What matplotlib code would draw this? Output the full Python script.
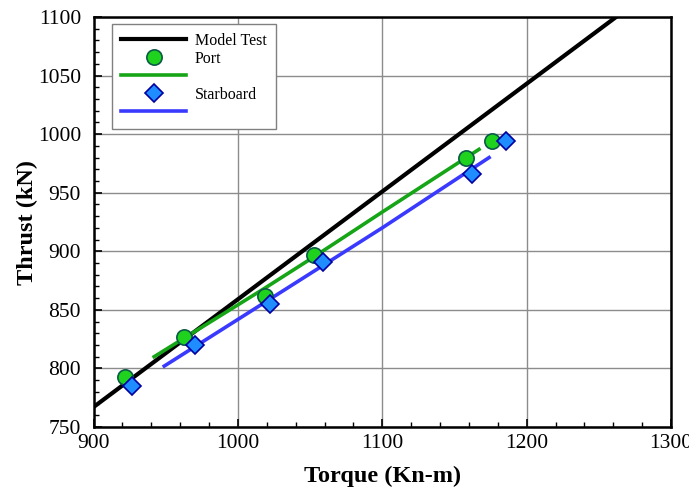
import matplotlib
matplotlib.use("Agg")
import matplotlib.pyplot as plt
from matplotlib.lines import Line2D
from matplotlib.ticker import MultipleLocator

# ---- data ----
model_x = [890, 1270]
model_y = [757.8, 1107.4]

port_x = [922, 963, 1019, 1053, 1158, 1176]
port_y = [793, 827, 862, 897, 980, 994]

stbd_x = [927, 970, 1022, 1059, 1162, 1186]
stbd_y = [785, 820, 855, 891, 966, 994]

port_fit_x = [942, 980, 1018, 1053, 1100, 1167]
port_fit_y = [810, 839, 868, 895.5, 933.5, 987]

stbd_fit_x = [949, 1022, 1100, 1174]
stbd_fit_y = [802, 859, 920, 980]

x_ticks = [900, 1000, 1100, 1200, 1300]
y_ticks = [750, 800, 850, 900, 950, 1000, 1050, 1100]

plt.rcParams['font.family'] = ['Liberation Serif', 'DejaVu Serif']

fig = plt.figure(figsize=(6.89, 4.90), dpi=100)
ax = fig.add_axes([93.5/689, 1 - 427/490, (671 - 93.5)/689, (427 - 17)/490])

green_line = '#16a516'
blue_line = '#3a3aff'
circ_face = '#1ed21e'
circ_edge = '#0b5a48'
dia_face = '#1f8cff'
dia_edge = '#0000a0'

ax.plot(model_x, model_y, color='black', lw=3.0, zorder=3, solid_capstyle='butt')
ax.plot(port_fit_x, port_fit_y, color=green_line, lw=2.6, zorder=3)
ax.plot(stbd_fit_x, stbd_fit_y, color=blue_line, lw=2.6, zorder=3)
ax.plot(port_x, port_y, 'o', ms=11, mfc=circ_face, mec=circ_edge, mew=1.2, zorder=4, ls='none')
ax.plot(stbd_x, stbd_y, 'D', ms=8.8, mfc=dia_face, mec=dia_edge, mew=1.2, zorder=5, ls='none')

ax.set_xlim(900, 1300)
ax.set_ylim(750, 1100)
ax.set_xticks(x_ticks)
ax.set_yticks(y_ticks)
ax.xaxis.set_minor_locator(MultipleLocator(20))
ax.yaxis.set_minor_locator(MultipleLocator(10))
ax.tick_params(which='both', direction='in', top=False, right=False, colors='black')
ax.tick_params(which='major', length=6, width=1.2, labelsize=15.5)
ax.tick_params(axis='x', which='major', pad=5)
ax.tick_params(axis='y', which='major', pad=9)
ax.tick_params(which='minor', length=3.5, width=1.0)
ax.grid(True, which='major', color='#8c8c8c', lw=1.0, zorder=0)
for s in ax.spines.values():
    s.set_linewidth(1.8)

ax.set_xlabel('Torque (Kn-m)', fontsize=17.5, fontweight='bold', labelpad=9)
ax.set_ylabel('Thrust (kN)', fontsize=17.5, fontweight='bold', labelpad=0)

handles = [
    Line2D([], [], color='black', lw=3.0),
    Line2D([], [], marker='o', ls='none', ms=11, mfc=circ_face, mec=circ_edge, mew=1.2),
    Line2D([], [], color=green_line, lw=2.6),
    Line2D([], [], marker='D', ls='none', ms=8.8, mfc=dia_face, mec=dia_edge, mew=1.2),
    Line2D([], [], color=blue_line, lw=2.6),
]
labels = ['Model Test', 'Port', '', 'Starboard', '']
leg = ax.legend(handles, labels, loc='upper left', bbox_to_anchor=(0.032, 0.983),
                fontsize=11.5, handlelength=4.1, handletextpad=0.55, labelspacing=0.12,
                borderpad=0.55, fancybox=False, framealpha=1, edgecolor='#808080',
                borderaxespad=0)
leg.get_frame().set_linewidth(1.0)
leg.set_zorder(10)

fig.savefig('out.png', dpi=100)
